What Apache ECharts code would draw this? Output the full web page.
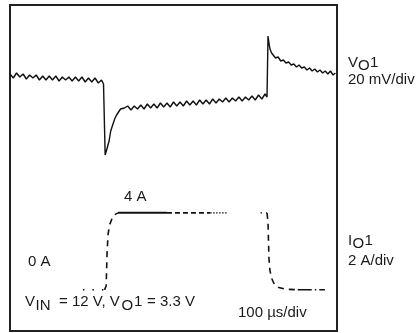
<!DOCTYPE html>
<html><head><meta charset="utf-8">
<script src="https://cdn.jsdelivr.net/npm/echarts@6/dist/echarts.min.js"></script>
<style>html,body{margin:0;padding:0;background:#fff}#c{width:419px;height:333px}</style>
</head><body><div id="c"></div>
<script>
// Output voltage deviation (mV) vs time (µs)
const vTime = [0,10,20,30,40,50,60,70,80,90,100,110,120,130,140,150,160,170,180,190,200,210,220,230,240,250,260,270,280,286,
  290,291,294,298,303,308,314,320,326,332,338,344,350,
  360,370,380,390,400,410,420,430,440,450,460,470,480,490,500,510,520,530,540,550,560,570,580,590,600,610,620,630,640,650,660,670,680,690,700,710,720,730,740,750,760,770,780,786,
  788,789,792,795,800,806,812,820,828,836,844,852,860,868,876,884,892,900,908,916,924,932,940,948,956,964,972,980,988,995];
const vMv = [1.5,-0.5,2.0,0.0,1.5,-1.0,1.0,-0.5,1.0,-1.5,0.5,-1.5,0.5,-1.5,0.5,-2.0,0.0,-1.5,0.0,-2.0,0.0,-2.0,0.0,-2.5,-0.5,-2.5,-0.5,-3.0,-1.5,-3.5,
  -4,-39,-38,-35,-32,-27,-24,-21,-19,-17.5,-16,-17,-15.5,
  -14.5,-16.5,-14.5,-16.0,-14.0,-16.0,-13.5,-15.5,-13.5,-15.5,-13.0,-15.0,-13.0,-15.0,-12.5,-14.5,-12.5,-14.5,-12.0,-14.0,-12.0,-14.0,-11.5,-13.5,-11.5,-13.5,-11.0,-13.0,-11.0,-12.5,-10.5,-12.5,-10.5,-12.0,-10.0,-12.0,-10.0,-11.5,-9.5,-11.5,-9.0,-11.0,-8.5,-10,
  -9,20.5,17,14,12,11.5,9.5,10,8,8.5,7,7.5,6,6.5,5,6,4.5,5,3.5,4.5,3,4,2.5,3.5,2,3,1.5,3,1,2];

// Output current (A) vs time (µs), split by trace style
const iLowT = [223, 289];            const iLowA = [0, 0];
const iRiseT = [289, 294, 297, 300, 305, 312, 320, 330];
const iRiseA = [0, 0.2, 2.0, 2.9, 3.4, 3.7, 3.9, 4.0];
const iTopSolidT = [330, 480];       const iTopSolidA = [4.0, 4.0];
const iTopDashT = [480, 612];        const iTopDashA = [4.0, 4.0];
const iTopDotT = [612, 665];         const iTopDotA = [4.0, 4.0];
const iTopEndT = [766, 786];         const iTopEndA = [4.0, 4.0];
const iFallT = [786, 789, 792, 795, 800, 808, 822, 845, 880];
const iFallA = [4.0, 3.5, 1.6, 1.0, 0.6, 0.3, 0.12, 0.03, 0];
const iTailT = [880, 920, 963];      const iTailA = [0, 0, 0];

const FONT = '"Liberation Sans", Arial, Helvetica, sans-serif';
const TXT = '#1a1a1a';
const pair = (t, v) => t.map((x, k) => [x, v[k]]);

function curSeries(t, a, type, w) {
  return { type: 'line', yAxisIndex: 1, data: pair(t, a), symbol: 'none', silent: true,
    lineStyle: { color: '#111', width: w || 1.6, type: type } };
}
function txt(x, y, text) {
  return { type: 'text', x: x, y: y, style: { text: text, font: '15px ' + FONT, fill: TXT, textVerticalAlign: 'middle' } };
}
// pieces: [text, x, isSubscript]
function subLabel(y, pieces) {
  return pieces.map(p => txt(p[1], y + (p[2] ? 3.5 : 0), p[0]));
}

const chart = echarts.init(document.getElementById('c'), null, { renderer: 'canvas' });
chart.setOption({
  animation: false,
  backgroundColor: '#fff',
  grid: { left: 10, top: 5, width: 327, height: 326, show: true, borderColor: '#222', borderWidth: 2, backgroundColor: '#fff' },
  xAxis: { type: 'value', min: 0, max: 1000, show: false },
  yAxis: [
    { type: 'value', min: -127, max: 36, show: false },
    { type: 'value', min: -2.14, max: 14.8, show: false }
  ],
  series: [
    { type: 'line', yAxisIndex: 0, data: pair(vTime, vMv), symbol: 'none', silent: true,
      lineStyle: { color: '#111', width: 1.4 } },
    curSeries(iLowT, iLowA, [1.5, 8], 1.5),
    curSeries(iRiseT, iRiseA, [6, 5], 1.6),
    curSeries(iTopSolidT, iTopSolidA, 'solid', 2),
    curSeries(iTopDashT, iTopDashA, [5, 3], 1.6),
    curSeries(iTopDotT, iTopDotA, [1.5, 1.5], 1.4),
    curSeries(iTopEndT, iTopEndA, [1.5, 4], 1.4),
    curSeries(iFallT, iFallA, [6, 5], 1.6),
    curSeries(iTailT, iTailA, [14, 3, 1.5, 3], 1.6)
  ],
  graphic: [].concat(
    subLabel(62.5, [['V', 348, false], ['O', 358, true], ['1', 370, false]]),
    [txt(348, 80, '20 mV/div')],
    subLabel(240.5, [['I', 348, false], ['O', 352.5, true], ['1', 364.5, false]]),
    [txt(348, 261, '2 A/div'), txt(124, 197, '4 A'), txt(28, 262, '0 A')],
    subLabel(302, [['V', 25, false], ['IN', 35.5, true], ['= 12 V, V', 59, false], ['O', 121.5, true],
                   ['1', 134, false], ['= 3.3 V', 147, false]]),
    [txt(238, 313, '100 µs/div')]
  )
});
</script></body></html>
